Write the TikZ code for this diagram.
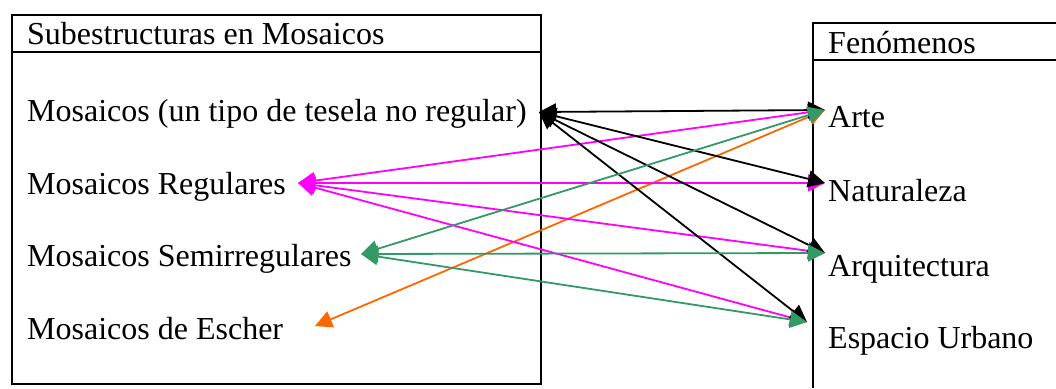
\documentclass[tikz,border=0pt]{standalone}
\usepackage{fontspec}
\setmainfont{Liberation Serif}
\usetikzlibrary{arrows.meta}
\definecolor{pinkc}{RGB}{255,0,255}
\definecolor{greenc}{RGB}{51,153,102}
\definecolor{orangec}{RGB}{255,102,0}
\begin{document}
\begin{tikzpicture}[x=1pt,y=-1pt,
  lbl/.style={anchor=base west,inner sep=0pt,font=\fontsize{32}{38}\selectfont},
  conn/.style={line width=1.8pt,{Triangle[length=17pt,width=17pt]}-{Triangle[length=17pt,width=17pt]}},
  frame/.style={line width=2.4pt}]
\useasboundingbox (0,0) rectangle (1056,388);
% left box
\draw[frame] (12,15) rectangle (541,384);
\draw[frame] (12,52) -- (541,52);
% right box
\draw[frame] (1056,23) -- (813,23) -- (813,388);
\draw[frame] (813,60) -- (1056,60);
% texts
\node[lbl] (hl) at (27,44) {Subestructuras en Mosaicos};
\node[lbl] (t1) at (27,121) {Mosaicos (un tipo de tesela no regular)};
\node[lbl] (t2) at (27,194) {Mosaicos Regulares};
\node[lbl] (t3) at (27,266) {Mosaicos Semirregulares};
\node[lbl] (t4) at (27,339) {Mosaicos de Escher};
\node[lbl] (hr) at (828,53) {Fenómenos};
\node[lbl] (p1) at (828,127) {Arte};
\node[lbl] (p2) at (828,201) {Naturaleza};
\node[lbl] (p3) at (828,276) {Arquitectura};
\node[lbl] (p4) at (828,348) {Espacio Urbano};
% connector ends
\coordinate (m1) at (539,112);
\coordinate (m2) at (298,183);
\coordinate (m3) at (361,254);
\coordinate (m4) at (315,326);
\coordinate (f1) at (825,110);
\coordinate (f2) at (825,183);
\coordinate (f3) at (825,253);
\coordinate (f4) at (807,322);
% connectors
\draw[conn,orangec] (m4) -- (f1);
\draw[conn,pinkc] (m2) -- (f1);
\draw[conn,pinkc] (m2) -- (f2);
\draw[conn,pinkc] (m2) -- (f3);
\draw[conn,pinkc] (m2) -- (f4);
\draw[conn,black] (m1) -- (f1);
\draw[conn,black] (m1) -- (f2);
\draw[conn,black] (m1) -- (f3);
\draw[conn,black] (m1) -- (f4);
\draw[conn,greenc] (m3) -- (f1);
\draw[conn,greenc] (m3) -- (f3);
\draw[conn,greenc] (m3) -- (f4);
\end{tikzpicture}
\end{document}
